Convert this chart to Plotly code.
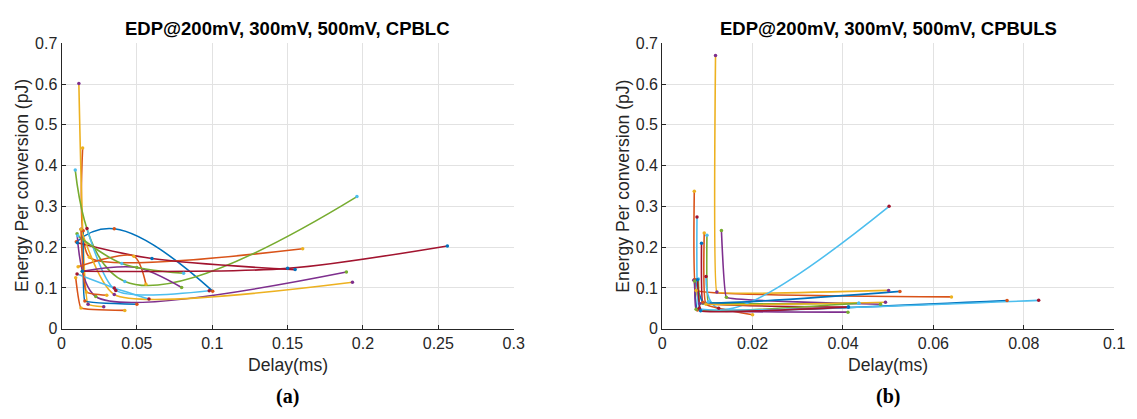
import plotly.graph_objects as go

# MATLAB default colour order
palette = ["#0072BD", "#D95319", "#EDB120", "#7E2F8E", "#77AC30", "#4DBEEE", "#A2142F"]

# ---------------- (a) CPBLC : each curve = points at 200mV, 300mV, 500mV
cpblc_x = [
    [0.0098, 0.035, 0.1003],
    [0.0140, 0.0185, 0.160],
    [0.0115, 0.0176, 0.028],
    [0.0103, 0.0227, 0.189],
    [0.0091, 0.042, 0.196],
    [0.0169, 0.036, 0.098],
    [0.0105, 0.060, 0.155],
    [0.0144, 0.0155, 0.050],
    [0.0110, 0.048, 0.056],
    [0.0129, 0.035, 0.193],
    [0.0138, 0.050, 0.0797],
    [0.0108, 0.040, 0.081],
    [0.0103, 0.035, 0.058],
    [0.0138, 0.150, 0.256],
    [0.0094, 0.0129, 0.042],
    [0.0129, 0.0165, 0.030],
]
cpblc_y = [
    [0.213, 0.245, 0.092],
    [0.443, 0.175, 0.196],
    [0.601, 0.060, 0.054],
    [0.233, 0.079, 0.139],
    [0.389, 0.116, 0.324],
    [0.246, 0.094, 0.093],
    [0.211, 0.172, 0.145],
    [0.240, 0.068, 0.060],
    [0.152, 0.178, 0.109],
    [0.244, 0.084, 0.114],
    [0.141, 0.150, 0.101],
    [0.228, 0.160, 0.136],
    [0.134, 0.100, 0.073],
    [0.141, 0.148, 0.203],
    [0.125, 0.051, 0.045],
    [0.244, 0.090, 0.082],
]
cpblc_col = [0, 1, 2, 3, 4, 5, 6, 0, 1, 2, 3, 4, 5, 6, 1, 1]
cpblc_smooth = [1.3, 0.5, 0.3, 0.8, 1.2, 0.7, 0.9, 0.2, 0.8, 0.6, 0.9, 0.9, 0.8, 0.8, 0.3, 0.4]

# ---------------- (b) CPBULS
cpbuls_x = [
    [0.0071, 0.0078, 0.0763],
    [0.0071, 0.0075, 0.064],
    [0.0118, 0.0121, 0.0501],
    [0.0131, 0.0142, 0.0483],
    [0.0099, 0.0102, 0.0435],
    [0.0097, 0.0125, 0.0502],
    [0.0087, 0.0090, 0.0412],
    [0.0073, 0.0090, 0.0526],
    [0.0093, 0.0097, 0.0200],
    [0.0070, 0.0083, 0.0494],
    [0.0072, 0.0075, 0.0411],
    [0.0080, 0.0085, 0.0435],
    [0.0077, 0.0082, 0.0833],
    [0.0078, 0.0085, 0.0412],
]
cpbuls_y = [
    [0.120, 0.046, 0.069],
    [0.337, 0.094, 0.078],
    [0.670, 0.090, 0.094],
    [0.241, 0.077, 0.060],
    [0.229, 0.066, 0.0625],
    [0.128, 0.050, 0.300],
    [0.2095, 0.063, 0.053],
    [0.120, 0.065, 0.0915],
    [0.2345, 0.060, 0.0344],
    [0.119, 0.062, 0.065],
    [0.117, 0.048, 0.0407],
    [0.122, 0.045, 0.0625],
    [0.274, 0.050, 0.0696],
    [0.120, 0.044, 0.053],
]
cpbuls_col = [0, 1, 2, 3, 4, 5, 6, 0, 1, 2, 3, 4, 5, 6]
cpbuls_smooth = [0.2, 0.15, 0.1, 0.15, 0.15, 1.3, 0.15, 0.25, 0.3, 0.2, 0.2, 0.2, 0.15, 0.2]

titles = ["EDP@200mV, 300mV, 500mV, CPBLC", "EDP@200mV, 300mV, 500mV, CPBULS"]
panel_labels = ["(a)", "(b)"]
x_ticks = [[0, 0.05, 0.1, 0.15, 0.2, 0.25, 0.3], [0, 0.02, 0.04, 0.06, 0.08, 0.1]]
x_ticktext = [["0", "0.05", "0.1", "0.15", "0.2", "0.25", "0.3"], ["0", "0.02", "0.04", "0.06", "0.08", "0.1"]]
x_ranges = [[0, 0.3], [0, 0.1]]
y_ticks = [0, 0.1, 0.2, 0.3, 0.4, 0.5, 0.6, 0.7]
y_ticktext = ["0", "0.1", "0.2", "0.3", "0.4", "0.5", "0.6", "0.7"]

FW, FH = 1137, 419


def px_x(X):
    return X / FW


def px_y(Y):
    return 1 - Y / FH


ax_left = [58.3, 667.0]
ax_right = [516.5, 1125.0]
ax_top, ax_bot = 36.7, 334.3

fig = go.Figure()
panels = [(cpblc_x, cpblc_y, cpblc_col, cpblc_smooth), (cpbuls_x, cpbuls_y, cpbuls_col, cpbuls_smooth)]
for p, (xs, ys, cols, sm) in enumerate(panels):
    xa = "x" if p == 0 else "x2"
    ya = "y" if p == 0 else "y2"
    for i, (cx, cy) in enumerate(zip(xs, ys)):
        c = palette[cols[i]]
        fig.add_trace(go.Scatter(x=cx, y=cy, mode="lines",
                                 line=dict(color=c, width=1.6, shape="spline", smoothing=sm[i]),
                                 xaxis=xa, yaxis=ya, showlegend=False, hoverinfo="skip"))
    for i, (cx, cy) in enumerate(zip(xs, ys)):
        mc = palette[(cols[i] + 1) % 7]
        fig.add_trace(go.Scatter(x=cx, y=cy, mode="markers", marker=dict(color=mc, size=3.5),
                                 xaxis=xa, yaxis=ya, showlegend=False, hoverinfo="skip"))

FONT = "Liberation Sans, Arial, Helvetica"
axis_common = dict(showgrid=True, gridcolor="#e2e2e2", gridwidth=1, zeroline=False,
                   showline=True, linecolor="#262626", linewidth=1, ticks="inside", ticklen=4,
                   tickcolor="#262626", tickfont=dict(family=FONT, size=16, color="#262626"),
                   mirror=False)
for p in range(2):
    sx = "" if p == 0 else "2"
    fig.update_layout(**{
        "xaxis" + sx: dict(axis_common, domain=[px_x(ax_left[p]), px_x(ax_right[p])], range=x_ranges[p],
                           tickvals=x_ticks[p], ticktext=x_ticktext[p], anchor="y" + sx),
        "yaxis" + sx: dict(axis_common, domain=[px_y(ax_bot), px_y(ax_top)], range=[0, 0.7],
                           tickvals=y_ticks, ticktext=y_ticktext, anchor="x" + sx),
    })
    cxp = (ax_left[p] + ax_right[p]) / 2
    fig.add_annotation(text="<b>" + titles[p] + "</b>", x=px_x(cxp), y=px_y(21.7), xref="paper", yref="paper",
                       showarrow=False, font=dict(family=FONT, size=18.5, color="#000"),
                       xanchor="center", yanchor="middle")
    fig.add_annotation(text="Delay(ms)", x=px_x(cxp), y=px_y(372), xref="paper", yref="paper",
                       showarrow=False, font=dict(family=FONT, size=17.6, color="#262626"),
                       xanchor="center", yanchor="middle")
    fig.add_annotation(text="Energy Per conversion (pJ)", x=px_x(ax_left[p] - 40), y=px_y((ax_top + ax_bot) / 2),
                       xref="paper", yref="paper", textangle=-90, showarrow=False,
                       font=dict(family=FONT, size=17.6, color="#262626"),
                       xanchor="center", yanchor="middle")
    fig.add_annotation(text="<b>" + panel_labels[p] + "</b>", x=px_x(cxp), y=px_y(405), xref="paper", yref="paper",
                       showarrow=False, font=dict(family="Liberation Serif, Times New Roman", size=20, color="#000"),
                       xanchor="center", yanchor="middle")

fig.update_layout(width=FW, height=FH, margin=dict(l=0, r=0, t=0, b=0),
                  plot_bgcolor="white", paper_bgcolor="white")
fig.write_html("out.html", config={"displayModeBar": False},
               post_script="document.body.style.margin='0';document.body.style.overflow='hidden';")
